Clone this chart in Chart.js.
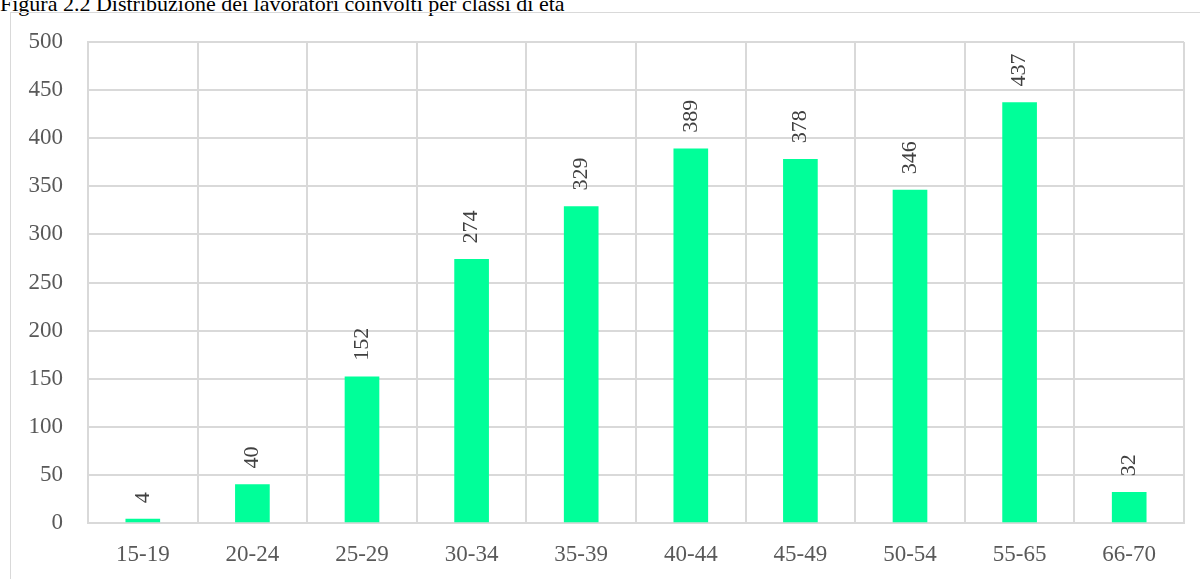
<!DOCTYPE html>
<html>
<head>
<meta charset="utf-8">
<script src="https://cdn.jsdelivr.net/npm/chart.js@4"></script>
<style>
  body { margin: 0; background: #fff; }
  #wrap { position: relative; width: 1200px; height: 579px; overflow: hidden; }
  #title {
    position: absolute; left: 0; top: -9px;
    font: 22px "Liberation Serif", serif; color: #000; white-space: nowrap;
  }
  #frame {
    position: absolute; left: 10px; top: 12px; width: 1300px; height: 700px;
    border: 1px solid #d9d9d9; box-sizing: border-box;
  }
  canvas { position: absolute; left: 0; top: 0; }
</style>
</head>
<body>
<div id="wrap">
  <div id="title">Figura 2.2 Distribuzione dei lavoratori coinvolti per classi di età</div>
  <div id="frame"></div>
  <canvas id="ageChart" width="1200" height="579"></canvas>
</div>
<script>
const classes = ['15-19', '20-24', '25-29', '30-34', '35-39', '40-44', '45-49', '50-54', '55-65', '66-70'];
const workers = [4, 40, 152, 274, 329, 389, 378, 346, 437, 32];
const yTicks = [0, 50, 100, 150, 200, 250, 300, 350, 400, 450, 500];

const serif = '"Liberation Serif", serif';

// values written vertically above each bar
const verticalLabels = {
  id: 'verticalLabels',
  afterDatasetsDraw(chart) {
    const ctx = chart.ctx;
    const meta = chart.getDatasetMeta(0);
    ctx.save();
    ctx.font = '22px ' + serif;
    ctx.fillStyle = '#404040';
    ctx.textAlign = 'left';
    ctx.textBaseline = 'middle';
    meta.data.forEach((bar, i) => {
      ctx.save();
      ctx.translate(bar.x, bar.y - 16);
      ctx.rotate(-Math.PI / 2);
      ctx.fillText(String(workers[i]), 0, 0);
      ctx.restore();
    });
    ctx.restore();
  }
};

new Chart(document.getElementById('ageChart'), {
  type: 'bar',
  data: {
    labels: classes,
    datasets: [{
      data: workers,
      backgroundColor: '#00ff99',
      barThickness: 34
    }]
  },
  options: {
    responsive: false,
    animation: false,
    layout: { padding: { left: 10, right: 16, top: 42, bottom: 0 } },
    plugins: { legend: { display: false }, tooltip: { enabled: false } },
    scales: {
      x: {
        grid: { color: '#d9d9d9', lineWidth: 2, drawTicks: false },
        border: { color: '#d9d9d9', width: 2 },
        ticks: { color: '#595959', font: { family: serif, size: 23 }, padding: 18 },
        afterFit(scale) { scale.height = 56; }
      },
      y: {
        min: 0,
        max: 500,
        afterBuildTicks(scale) { scale.ticks = yTicks.map(v => ({ value: v })); },
        grid: { color: '#d9d9d9', lineWidth: 2, drawTicks: false },
        border: { color: '#d9d9d9', width: 2 },
        ticks: { color: '#595959', font: { family: serif, size: 23 }, padding: 25 },
        afterFit(scale) { scale.width = 78; }
      }
    }
  },
  plugins: [verticalLabels]
});
</script>
</body>
</html>
